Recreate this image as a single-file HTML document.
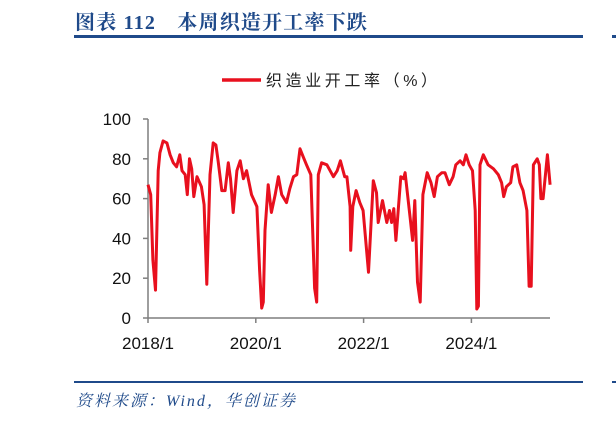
<!DOCTYPE html>
<html><head><meta charset="utf-8"><style>
body{margin:0;background:#fff;width:616px;height:421px;overflow:hidden;font-family:"Liberation Sans","Noto Sans CJK SC",sans-serif}
</style></head><body>
<svg width="616" height="421" xmlns="http://www.w3.org/2000/svg">
<text x="75" y="29" fill="#1f4a8a" font-size="20" font-weight="bold" letter-spacing="1.2" font-family="'Liberation Serif','Noto Serif CJK SC',serif">图表 112　本周织造开工率下跌</text>
<rect x="74" y="35" width="509" height="3" fill="#1f4a8a"/>
<rect x="612" y="35" width="4" height="3" fill="#1f4a8a"/>
<g>
<line x1="222" y1="80" x2="261" y2="80" stroke="#e8101e" stroke-width="3.5"/>
<text x="266" y="86" font-size="16" fill="#222" letter-spacing="3.6">织造业开工率（%）</text>
</g>
<g id="axes"></g>
<g id="plot"></g>
<rect x="74" y="381" width="509" height="2" fill="#1f4a8a"/>
<rect x="612" y="381" width="4" height="2" fill="#1f4a8a"/>
<text x="76" y="406" font-size="16" font-style="italic" letter-spacing="2" fill="#1f4a8a" font-family="'Liberation Serif','Noto Serif CJK SC',serif">资料来源：Wind，华创证券</text>
</svg>
<script>
const dates=[2018.00,2018.02,2018.05,2018.09,2018.14,2018.19,2018.22,2018.28,2018.35,2018.41,2018.47,2018.53,2018.59,2018.63,2018.69,2018.73,2018.77,2018.81,2018.85,2018.91,2018.99,2019.04,2019.09,2019.15,2019.21,2019.26,2019.30,2019.37,2019.43,2019.49,2019.53,2019.58,2019.65,2019.71,2019.77,2019.83,2019.92,2020.02,2020.07,2020.11,2020.14,2020.17,2020.23,2020.29,2020.36,2020.42,2020.48,2020.57,2020.63,2020.70,2020.76,2020.82,2020.88,2020.94,2021.02,2021.09,2021.13,2021.16,2021.22,2021.32,2021.44,2021.51,2021.57,2021.65,2021.69,2021.75,2021.76,2021.80,2021.86,2021.93,2021.99,2022.09,2022.18,2022.24,2022.27,2022.35,2022.43,2022.48,2022.52,2022.56,2022.60,2022.69,2022.74,2022.77,2022.86,2022.91,2022.95,2023.00,2023.05,2023.10,2023.18,2023.25,2023.31,2023.37,2023.45,2023.51,2023.59,2023.66,2023.71,2023.79,2023.85,2023.90,2023.96,2024.02,2024.07,2024.10,2024.13,2024.16,2024.22,2024.31,2024.41,2024.50,2024.56,2024.60,2024.65,2024.73,2024.77,2024.84,2024.90,2024.96,2025.03,2025.07,2025.11,2025.15,2025.22,2025.26,2025.29,2025.33,2025.41,2025.46];
const values=[67,65,62,29,14,74,83,89,88,82,78,76,82,74,72,62,80,75,61,71,66,57,17,72,88,87,79,64,64,78,70,53,74,79,70,74,62,56,24,5,8,44,67,53,62,71,62,58,65,71,72,85,81,77,72,15,8,72,78,77,71,74,79,71,71,56,34,56,64,58,54,23,69,63,48,59,48,54,48,55,39,71,70,73,51,39,59,18,8,62,73,68,61,71,73,73,67,71,77,79,77,82,77,74,54,4.5,6,77,82,77,75,72,68,61,66,68,76,77,68,64,54,16,16,77,80,77,60,60,82,67];
const yTicks=[0,20,40,60,80,100];
const xTickYears=[2018,2020,2022,2024];
const xTickLabels=["2018/1","2020/1","2022/1","2024/1"];
const NS="http://www.w3.org/2000/svg";
const X0=148,XPY=53.9,Y0=318,YPU=1.99;
const xs=d=>X0+(d-2018)*XPY, ys=v=>Y0-v*YPU;
const axes=document.getElementById('axes'),plot=document.getElementById('plot');
function mk(tag,attrs,parent){const e=document.createElementNS(NS,tag);for(const k in attrs)e.setAttribute(k,attrs[k]);parent.appendChild(e);return e;}
let e=mk('line',{x1:X0,y1:ys(100),x2:X0,y2:Y0,stroke:'#7f7f7f','stroke-width':1.5},axes);


e=mk('line',{x1:X0,y1:Y0,x2:550,y2:Y0,stroke:'#7f7f7f','stroke-width':1.5},axes);


yTicks.forEach(v=>{
 let t=mk('line',{x1:X0-5,y1:ys(v),x2:X0,y2:ys(v),stroke:'#7f7f7f','stroke-width':1.5},axes);
 
 
 let l=mk('text',{x:X0-17,y:ys(v)+6,'text-anchor':'end','font-size':17,fill:'#111'},axes);
 l.textContent=v;
 
 
});
xTickYears.forEach((yr,i)=>{
 let t=mk('line',{x1:xs(yr),y1:Y0,x2:xs(yr),y2:Y0+5,stroke:'#7f7f7f','stroke-width':1.5},axes);
 
 
 let l=mk('text',{x:xs(yr),y:Y0+31,'text-anchor':'middle','font-size':17,fill:'#111'},axes);
 l.textContent=xTickLabels[i];
 
 
});
const pts=dates.map((d,i)=>xs(d).toFixed(1)+','+ys(values[i]).toFixed(1)).join(' ');
e=mk('polyline',{points:pts,fill:'none',stroke:'#e8101e','stroke-width':3,'stroke-linejoin':'round'},plot);


</script>
</body></html>
